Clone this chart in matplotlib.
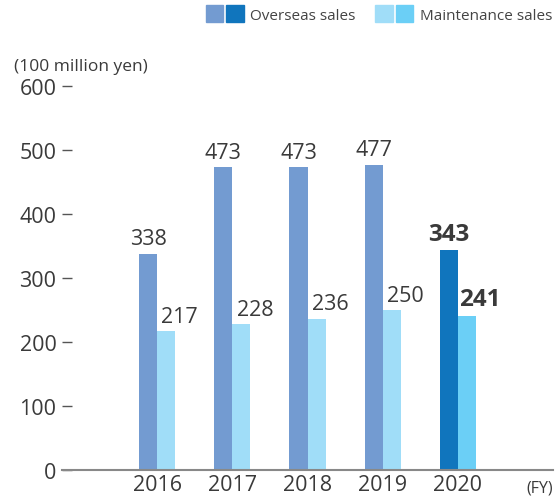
import matplotlib.pyplot as plt
from matplotlib.patches import Patch
from matplotlib.legend_handler import HandlerTuple
import numpy as np

plt.rcParams['font.family'] = ['Open Sans', 'DejaVu Sans']

years = ['2016', '2017', '2018', '2019', '2020']
overseas = [338, 473, 473, 477, 343]
maintenance = [217, 228, 236, 250, 241]

c_over = '#739bd1'
c_over_hl = '#1075bd'
c_main = '#a0ddf8'
c_main_hl = '#6bcff6'
txt = '#3a3a3a'

W, H = 559, 502
fig = plt.figure(figsize=(W / 100, H / 100), dpi=100)
ax = fig.add_axes([62 / W, (H - 471) / H, (553 - 62) / W, (471 - 87) / H])

x = np.arange(len(years))
bw = 0.24
last = len(years) - 1
oc = [c_over_hl if i == last else c_over for i in x]
mc = [c_main_hl if i == last else c_main for i in x]
ax.bar(x - bw / 2, overseas, bw, color=oc, zorder=2)
ax.bar(x + bw / 2, maintenance, bw, color=mc, zorder=2)

for i in x:
    bold = i == last
    fs = 17.5 if bold else 15.5
    fw = 'bold' if bold else 'normal'
    ax.text(i - bw / 2, overseas[i] + 7, str(overseas[i]), ha='center', va='bottom',
            fontsize=fs, fontweight=fw, color=txt)
    ax.text(i + bw / 2 + 0.18, maintenance[i] + 7, str(maintenance[i]),
            ha='center', va='bottom', fontsize=fs, fontweight=fw, color=txt)

ax.set_xlim(-1.27, last + 1.27)
ax.set_ylim(0, 600)
ax.set_yticks(range(0, 601, 100))
ax.set_xticks(x)
ax.set_xticklabels(years)
for s in ['top', 'right', 'left']:
    ax.spines[s].set_visible(False)
ax.spines['bottom'].set_color('#888888')
ax.spines['bottom'].set_linewidth(1.5)
ax.tick_params(axis='y', length=7, width=1, color='#555555', labelsize=15.5,
               labelcolor=txt, pad=4, direction='in')
ax.tick_params(axis='x', length=0, labelsize=15.5, labelcolor=txt, pad=3)
for l in ax.yaxis.get_ticklines():
    l.set_clip_on(False)

fig.text(14 / W, 1 - 67 / H, '(100 million yen)', fontsize=12.5, color=txt, va='center')
fig.text(553 / W, 1 - 489 / H, '(FY)', fontsize=11.5, color=txt, va='center', ha='right')

handles = [(Patch(color=c_over), Patch(color=c_over_hl)),
           (Patch(color=c_main), Patch(color=c_main_hl))]
fig.legend(handles, ['Overseas sales', 'Maintenance sales'],
           handler_map={tuple: HandlerTuple(ndivide=None, pad=0.2)},
           loc='upper right', bbox_to_anchor=(1.012, 1.015), ncol=2, frameon=False,
           fontsize=11, handlelength=2.5, handleheight=1.35, handletextpad=0.4,
           columnspacing=1.3, labelcolor='#444444')

fig.savefig('out.png', dpi=100)
